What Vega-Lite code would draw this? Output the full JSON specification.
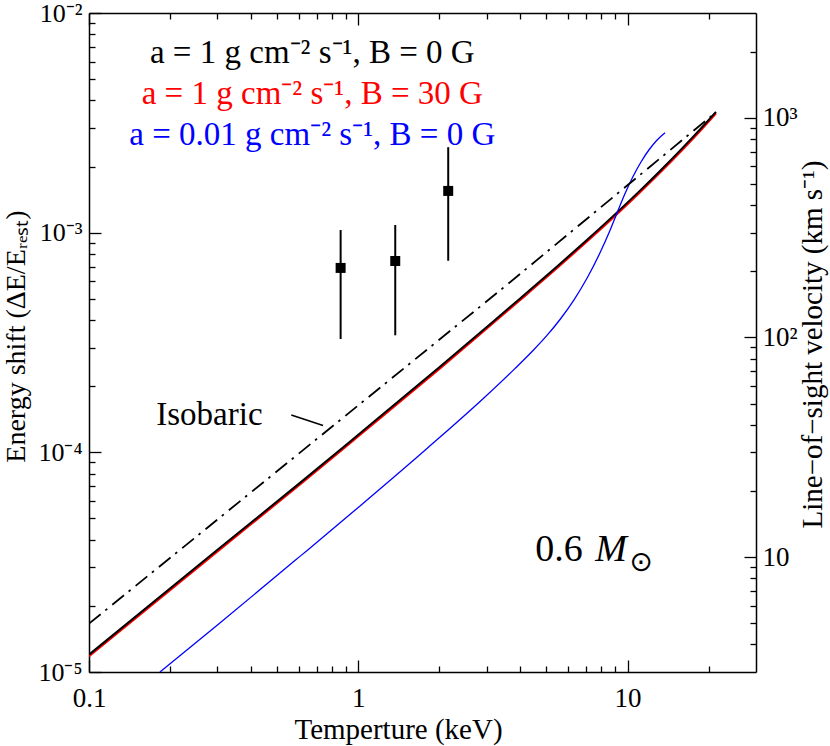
{
  "$schema": "https://vega.github.io/schema/vega-lite/v6.json",
  "description": "Energy shift vs temperature, log-log, with velocity axis",
  "width": 667,
  "height": 659,
  "autosize": {"type": "none"},
  "padding": {"left": 89, "top": 13, "right": 74, "bottom": 74},
  "background": "white",
  "datasets": {
    "curves": [
      {"model": "a1_B30", "T": 0.1, "shift": 0.00001182},
      {"model": "a1_B30", "T": 0.3, "shift": 0.00003546},
      {"model": "a1_B30", "T": 0.609, "shift": 0.0000717},
      {"model": "a1_B30", "T": 1.0, "shift": 0.0001185},
      {"model": "a1_B30", "T": 2.0, "shift": 0.0002401},
      {"model": "a1_B30", "T": 3.365, "shift": 0.0004135},
      {"model": "a1_B30", "T": 3.98, "shift": 0.0004932},
      {"model": "a1_B30", "T": 5.62, "shift": 0.000711},
      {"model": "a1_B30", "T": 7.08, "shift": 0.000915},
      {"model": "a1_B30", "T": 9.12, "shift": 0.001215},
      {"model": "a1_B30", "T": 11.22, "shift": 0.001546},
      {"model": "a1_B30", "T": 13.2, "shift": 0.001881},
      {"model": "a1_B30", "T": 15.85, "shift": 0.002365},
      {"model": "a1_B30", "T": 18.62, "shift": 0.002916},
      {"model": "a1_B30", "T": 21.3, "shift": 0.00350},
      {"model": "a1_B0", "T": 0.1, "shift": 0.0000120},
      {"model": "a1_B0", "T": 0.3, "shift": 0.0000360},
      {"model": "a1_B0", "T": 0.609, "shift": 0.0000728},
      {"model": "a1_B0", "T": 1.0, "shift": 0.0001203},
      {"model": "a1_B0", "T": 2.0, "shift": 0.0002438},
      {"model": "a1_B0", "T": 3.365, "shift": 0.0004198},
      {"model": "a1_B0", "T": 3.98, "shift": 0.0005007},
      {"model": "a1_B0", "T": 5.62, "shift": 0.000722},
      {"model": "a1_B0", "T": 7.08, "shift": 0.000929},
      {"model": "a1_B0", "T": 9.12, "shift": 0.001234},
      {"model": "a1_B0", "T": 11.22, "shift": 0.001570},
      {"model": "a1_B0", "T": 13.2, "shift": 0.001910},
      {"model": "a1_B0", "T": 15.85, "shift": 0.002401},
      {"model": "a1_B0", "T": 18.62, "shift": 0.002961},
      {"model": "a1_B0", "T": 21.3, "shift": 0.00355},
      {"model": "a001_B0", "T": 0.1834, "shift": 0.0000100},
      {"model": "a001_B0", "T": 0.3, "shift": 0.00001636},
      {"model": "a001_B0", "T": 0.609, "shift": 0.00003369},
      {"model": "a001_B0", "T": 1.0, "shift": 0.00005613},
      {"model": "a001_B0", "T": 1.8, "shift": 0.0001041},
      {"model": "a001_B0", "T": 2.92, "shift": 0.0001763},
      {"model": "a001_B0", "T": 3.8, "shift": 0.0002393},
      {"model": "a001_B0", "T": 4.467, "shift": 0.0002915},
      {"model": "a001_B0", "T": 5.012, "shift": 0.0003397},
      {"model": "a001_B0", "T": 5.623, "shift": 0.0004035},
      {"model": "a001_B0", "T": 6.31, "shift": 0.000492},
      {"model": "a001_B0", "T": 7.079, "shift": 0.0006216},
      {"model": "a001_B0", "T": 7.943, "shift": 0.00082},
      {"model": "a001_B0", "T": 8.511, "shift": 0.000991},
      {"model": "a001_B0", "T": 9.12, "shift": 0.00122},
      {"model": "a001_B0", "T": 9.772, "shift": 0.0015},
      {"model": "a001_B0", "T": 10.47, "shift": 0.001797},
      {"model": "a001_B0", "T": 11.22, "shift": 0.002098},
      {"model": "a001_B0", "T": 12.02, "shift": 0.002385},
      {"model": "a001_B0", "T": 12.88, "shift": 0.002643},
      {"model": "a001_B0", "T": 13.78, "shift": 0.00285},
      {"model": "isobaric", "T": 0.1, "shift": 0.0000166},
      {"model": "isobaric", "T": 3.4, "shift": 0.000552},
      {"model": "isobaric", "T": 20.5, "shift": 0.00340}
    ],
    "obs": [
      {"T": 0.86, "shift": 0.000691, "lo": 0.000328, "hi": 0.001028, "v": 207},
      {"T": 1.372, "shift": 0.000743, "lo": 0.000341, "hi": 0.001084, "v": 223},
      {"T": 2.158, "shift": 0.001549, "lo": 0.000745, "hi": 0.00245, "v": 464}
    ],
    "legend": [
      {"model": "a1_B0", "label": "a = 1 g cm⁻² s⁻¹, B = 0 G", "T": 0.675, "shift": 0.0059},
      {"model": "a1_B30", "label": "a = 1 g cm⁻² s⁻¹, B = 30 G", "T": 0.675, "shift": 0.00387},
      {"model": "a001_B0", "label": "a = 0.01 g cm⁻² s⁻¹, B = 0 G", "T": 0.675, "shift": 0.0025}
    ],
    "notes": [
      {"id": "isobaric", "label": "Isobaric", "T": 0.28, "shift": 0.000148},
      {"id": "mass", "label": "0.6", "T": 4.54, "shift": 0.0000321},
      {"id": "mass_symbol", "label": "M", "T": 7.58, "shift": 0.0000321},
      {"id": "sun", "label": "⊙", "T": 11.22, "shift": 0.0000313}
    ],
    "leader": [
      {"T": 0.564, "shift": 0.0001478, "T2": 0.740, "shift2": 0.0001324}
    ]
  },
  "layer": [
    {
      "layer": [
        {
          "data": {"name": "curves"},
          "transform": [{"filter": "datum.model == 'a1_B30'"}],
          "mark": {"type": "line", "strokeWidth": 2.4, "interpolate": "monotone", "clip": true},
          "encoding": {
            "x": {
              "field": "T",
              "type": "quantitative",
              "scale": {"type": "log", "domain": [0.1, 30], "nice": false},
              "axis": {
                "orient": "bottom",
                "title": "Temperture (keV)",
                "values": [0.1, 0.2, 0.3, 0.4, 0.5, 0.6, 0.7, 0.8, 0.9, 1, 2, 3, 4, 5, 6, 7, 8, 9, 10, 20],
                "labelExpr": "datum.value == 0.1 ? '0.1' : datum.value == 1 ? '1' : datum.value == 10 ? '10' : ''",
                "tickSize": {"condition": {"test": "datum.value == 0.1 || datum.value == 1 || datum.value == 10", "value": -12}, "value": -6},
                "labelPadding": 25,
                "titleX": 309,
                "titleY": 66,
                "titleAlign": "center",
                "titleBaseline": "alphabetic",
                "titleFontSize": 29
              }
            },
            "y": {
              "field": "shift",
              "type": "quantitative",
              "scale": {"type": "log", "domain": [0.00001, 0.01], "nice": false},
              "axis": {
                "orient": "left",
                "title": "Energy shift (ΔE/Eᵣₑₛₜ)",
                "values": [0.00001, 0.00002, 0.00003, 0.00004, 0.00005, 0.00006, 0.00007, 0.00008, 0.00009, 0.0001, 0.0002, 0.0003, 0.0004, 0.0005, 0.0006, 0.0007, 0.0008, 0.0009, 0.001, 0.002, 0.003, 0.004, 0.005, 0.006, 0.007, 0.008, 0.009, 0.01],
                "labelExpr": "datum.value == 0.00001 ? '10⁻⁵' : datum.value == 0.0001 ? '10⁻⁴' : datum.value == 0.001 ? '10⁻³' : datum.value == 0.01 ? '10⁻²' : ''",
                "tickSize": {"condition": {"test": "datum.value == 0.00001 || datum.value == 0.0001 || datum.value == 0.001 || datum.value == 0.01", "value": -12}, "value": -6},
                "labelPadding": 19,
                "labelFontSize": 26,
                "titleX": -59,
                "titleY": 323,
                "titleAlign": "center",
                "titleBaseline": "bottom"
              }
            },
            "color": {
              "field": "model",
              "type": "nominal",
              "scale": {"domain": ["a1_B0", "a1_B30", "a001_B0"], "range": ["#000000", "#ff0000", "#0000ff"]},
              "legend": null
            }
          }
        },
        {
          "data": {"name": "curves"},
          "transform": [{"filter": "datum.model == 'a1_B0'"}],
          "mark": {"type": "line", "strokeWidth": 2, "interpolate": "monotone", "clip": true},
          "encoding": {
            "x": {"field": "T", "type": "quantitative"},
            "y": {"field": "shift", "type": "quantitative"},
            "color": {"field": "model", "type": "nominal"}
          }
        },
        {
          "data": {"name": "curves"},
          "transform": [{"filter": "datum.model == 'a001_B0'"}],
          "mark": {"type": "line", "strokeWidth": 1.3, "interpolate": "monotone", "clip": true},
          "encoding": {
            "x": {"field": "T", "type": "quantitative"},
            "y": {"field": "shift", "type": "quantitative"},
            "color": {"field": "model", "type": "nominal"}
          }
        },
        {
          "data": {"name": "curves"},
          "transform": [{"filter": "datum.model == 'isobaric'"}],
          "mark": {"type": "line", "strokeWidth": 1.8, "color": "black", "strokeDash": [15, 6, 2.5, 6.5], "clip": true},
          "encoding": {
            "x": {"field": "T", "type": "quantitative"},
            "y": {"field": "shift", "type": "quantitative"}
          }
        },
        {
          "data": {"name": "leader"},
          "mark": {"type": "rule", "strokeWidth": 1.6, "color": "black"},
          "encoding": {
            "x": {"field": "T", "type": "quantitative"},
            "y": {"field": "shift", "type": "quantitative"},
            "x2": {"field": "T2"},
            "y2": {"field": "shift2"}
          }
        },
        {
          "data": {"name": "obs"},
          "mark": {"type": "rule", "strokeWidth": 2, "color": "black"},
          "encoding": {
            "x": {"field": "T", "type": "quantitative"},
            "y": {"field": "lo", "type": "quantitative"},
            "y2": {"field": "hi"}
          }
        },
        {
          "data": {"name": "obs"},
          "mark": {"type": "square", "size": 100, "filled": true, "color": "black", "opacity": 1},
          "encoding": {
            "x": {"field": "T", "type": "quantitative"},
            "y": {"field": "shift", "type": "quantitative"}
          }
        },
        {
          "data": {"name": "legend"},
          "mark": {"type": "text", "fontSize": 33, "align": "center", "baseline": "alphabetic", "font": "Liberation Serif"},
          "encoding": {
            "x": {"field": "T", "type": "quantitative"},
            "y": {"field": "shift", "type": "quantitative"},
            "text": {"field": "label"},
            "color": {"field": "model", "type": "nominal"}
          }
        },
        {
          "data": {"name": "notes"},
          "transform": [{"filter": "datum.id == 'isobaric'"}],
          "mark": {"type": "text", "fontSize": 33, "align": "center", "baseline": "middle", "font": "Liberation Serif", "color": "black"},
          "encoding": {
            "x": {"field": "T", "type": "quantitative"},
            "y": {"field": "shift", "type": "quantitative"},
            "text": {"field": "label"}
          }
        },
        {
          "data": {"name": "notes"},
          "transform": [{"filter": "datum.id == 'mass'"}],
          "mark": {"type": "text", "fontSize": 38, "align": "left", "baseline": "alphabetic", "font": "Liberation Serif", "color": "black"},
          "encoding": {
            "x": {"field": "T", "type": "quantitative"},
            "y": {"field": "shift", "type": "quantitative"},
            "text": {"field": "label"}
          }
        },
        {
          "data": {"name": "notes"},
          "transform": [{"filter": "datum.id == 'mass_symbol'"}],
          "mark": {"type": "text", "fontSize": 38, "fontStyle": "italic", "align": "left", "baseline": "alphabetic", "font": "Liberation Serif", "color": "black"},
          "encoding": {
            "x": {"field": "T", "type": "quantitative"},
            "y": {"field": "shift", "type": "quantitative"},
            "text": {"field": "label"}
          }
        },
        {
          "data": {"name": "notes"},
          "transform": [{"filter": "datum.id == 'sun'"}],
          "mark": {"type": "text", "fontSize": 28, "align": "center", "baseline": "middle", "font": "DejaVu Sans", "color": "black"},
          "encoding": {
            "x": {"field": "T", "type": "quantitative"},
            "y": {"field": "shift", "type": "quantitative"},
            "text": {"field": "label"}
          }
        }
      ]
    },
    {
      "data": {"name": "obs"},
      "mark": {"type": "point", "opacity": 0},
      "encoding": {
        "x": {
          "field": "T",
          "type": "quantitative",
          "scale": {"type": "log", "domain": [0.1, 30], "nice": false},
          "axis": {
            "orient": "top",
            "title": null,
            "labels": false,
            "values": [0.1, 0.2, 0.3, 0.4, 0.5, 0.6, 0.7, 0.8, 0.9, 1, 2, 3, 4, 5, 6, 7, 8, 9, 10, 20],
            "tickSize": {"condition": {"test": "datum.value == 0.1 || datum.value == 1 || datum.value == 10", "value": -12}, "value": -6}
          }
        },
        "y": {
          "field": "v",
          "type": "quantitative",
          "scale": {"type": "log", "domain": [2.998, 2998], "nice": false},
          "axis": {
            "orient": "right",
            "title": "Line−of−sight velocity (km s⁻¹)",
            "values": [4, 5, 6, 7, 8, 9, 10, 20, 30, 40, 50, 60, 70, 80, 90, 100, 200, 300, 400, 500, 600, 700, 800, 900, 1000, 2000],
            "labelExpr": "datum.value == 10 ? '10' : datum.value == 100 ? '10²' : datum.value == 1000 ? '10³' : ''",
            "tickSize": {"condition": {"test": "datum.value == 10 || datum.value == 100 || datum.value == 1000", "value": -12}, "value": -6},
            "labelPadding": 18,
            "titleFontSize": 29,
            "titleAngle": 270,
            "titleX": 71,
            "titleY": 331,
            "titleAlign": "center",
            "titleBaseline": "bottom"
          }
        }
      }
    }
  ],
  "resolve": {"scale": {"x": "independent", "y": "independent"}},
  "config": {
    "view": {"stroke": null},
    "axis": {
      "grid": false,
      "domainColor": "black",
      "domainWidth": 1.5,
      "tickColor": "black",
      "tickWidth": 1.3,
      "labelFont": "Liberation Serif",
      "labelFontSize": 27,
      "labelColor": "black",
      "labelFlush": false,
      "labelOverlap": false,
      "labelBound": false,
      "titleFont": "Liberation Serif",
      "titleFontSize": 28,
      "titleFontWeight": "normal",
      "titleColor": "black"
    },
    "text": {"font": "Liberation Serif"}
  }
}
